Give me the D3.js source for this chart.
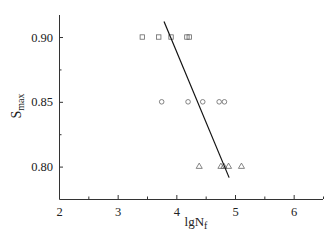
<!DOCTYPE html>
<html>
<head>
<meta charset="utf-8">
<script src="https://cdn.jsdelivr.net/npm/d3@7"></script>
<style>
  body { margin: 0; background: #fff; }
  svg text { font-family: "Liberation Serif", "Times New Roman", serif; fill: #222; }
</style>
</head>
<body>
<div id="chart"></div>
<script>
// ─── data ────────────────────────────────────────────────────────────────────
const squareX = [3.42, 3.70, 3.91, 4.18, 4.22];
const squareY = [0.90, 0.90, 0.90, 0.90, 0.90];
const circleX = [3.75, 4.20, 4.45, 4.73, 4.82];
const circleY = [0.85, 0.85, 0.85, 0.85, 0.85];
const triX = [4.39, 4.76, 4.81, 4.89, 5.11];
const triY = [0.80, 0.80, 0.80, 0.80, 0.80];
const fitX = [3.79, 4.90];
const fitY = [0.912, 0.7915];
const xTicks = [2, 3, 4, 5, 6];
const yTicks = [0.80, 0.85, 0.90];

const width = 329, height = 244;
const margin = { left: 59, right: 6, top: 15, bottom: 45 };
const FONT = '"Liberation Serif", "Times New Roman", serif';

const svg = d3.select("#chart").append("svg")
    .attr("width", width)
    .attr("height", height);

const x = d3.scaleLinear().domain([2, 6.5]).range([margin.left, width - margin.right]);
const y = d3.scaleLinear().domain([0.775, 0.917]).range([height - margin.bottom, margin.top]);

// axes, ticks pointing inward
const xAxis = d3.axisBottom(x).tickValues(xTicks).tickSize(-4).tickPadding(8).tickFormat(d3.format("d"));
const xMinor = d3.axisBottom(x).tickValues([2.5, 3.5, 4.5, 5.5, 6.5]).tickSize(-2.5).tickFormat("");
const yAxis = d3.axisLeft(y).tickValues(yTicks).tickSize(-4).tickPadding(6).tickFormat(d3.format(".2f"));
const yMinor = d3.axisLeft(y).tickValues([0.825, 0.875]).tickSize(-2.5).tickFormat("");

function styleAxis(sel) {
    sel.attr("font-family", FONT);
    sel.select(".domain").remove();
    sel.selectAll(".tick line").attr("stroke", "#333");
    sel.selectAll(".tick text").style("font-size", "12.5px").attr("fill", "#222");
}

const x0 = x.range()[0], x1 = x.range()[1];
const yb = y.range()[0], ytop = y.range()[1];

svg.append("g").attr("transform", `translate(0,${yb})`).call(xAxis).call(styleAxis);
svg.append("g").attr("transform", `translate(0,${yb})`).call(xMinor).call(styleAxis);
svg.append("g").attr("transform", `translate(${x0},0)`).call(yAxis).call(styleAxis);
svg.append("g").attr("transform", `translate(${x0},0)`).call(yMinor).call(styleAxis);

// axis lines (left and bottom only)
svg.append("path")
    .attr("fill", "none")
    .attr("stroke", "#333")
    .attr("stroke-width", 1)
    .attr("d", `M${x0 + 0.5},${ytop}V${yb + 0.5}H${x1}`);

// markers
const mk = svg.append("g").attr("fill", "none").attr("stroke", "#666").attr("stroke-width", 0.8);

mk.selectAll("rect").data(d3.zip(squareX, squareY)).join("rect")
    .attr("x", d => x(d[0]) - 2.2)
    .attr("y", d => y(d[1]) - 2.2)
    .attr("width", 4.4)
    .attr("height", 4.4);

mk.selectAll("circle").data(d3.zip(circleX, circleY)).join("circle")
    .attr("cx", d => x(d[0]))
    .attr("cy", d => y(d[1]))
    .attr("r", 2.3);

const triangle = d3.symbol().type(d3.symbolTriangle).size(16);
mk.selectAll("path.tri").data(d3.zip(triX, triY)).join("path")
    .attr("class", "tri")
    .attr("d", triangle)
    .attr("transform", d => `translate(${x(d[0])},${y(d[1])})`);

// fitted line
svg.append("path")
    .datum(d3.zip(fitX, fitY))
    .attr("fill", "none")
    .attr("stroke", "#111")
    .attr("stroke-width", 1.2)
    .attr("d", d3.line().x(d => x(d[0])).y(d => y(d[1])));

// axis titles
const xt = svg.append("text")
    .attr("x", 196)
    .attr("y", 226)
    .attr("text-anchor", "middle")
    .style("font-size", "13px");
xt.append("tspan").text("lgN");
xt.append("tspan").attr("dy", 3).style("font-size", "10px").text("f");

const yt = svg.append("text")
    .attr("transform", `translate(21,106) rotate(-90)`)
    .attr("text-anchor", "middle")
    .style("font-size", "14px");
yt.append("tspan").text("S");
yt.append("tspan").attr("dy", 3).style("font-size", "10px").text("max");
</script>
</body>
</html>
